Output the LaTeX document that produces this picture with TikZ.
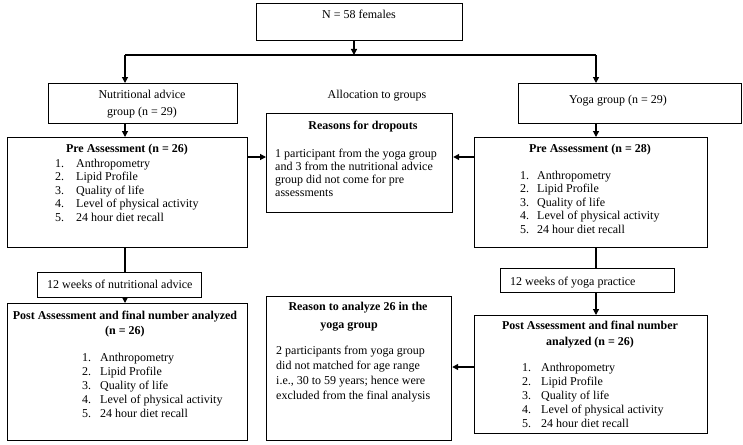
\documentclass[tikz,border=0pt]{standalone}
\usepackage{fontspec}
\setmainfont{Liberation Serif}
\usetikzlibrary{arrows.meta}
\begin{document}
\begin{tikzpicture}[x=1pt,y=-1pt,
  box/.style={draw,line width=1.2pt,inner sep=0pt,anchor=north west},
  txt/.style={inner sep=0pt,font=\fontsize{12}{13.5}\selectfont},
  conn/.style={line width=1.2pt},
  arr/.style={line width=1.2pt,-{Triangle[length=6pt,width=6pt]}}]
\useasboundingbox (0,0) rectangle (743,444);
% boxes
\node[box,minimum width=206pt,minimum height=37pt] (top) at (256,3) {};
\node[box,minimum width=189pt,minimum height=40pt] (nut) at (48,83) {};
\node[box,minimum width=223pt,minimum height=40pt] (yog) at (518,83) {};
\node[box,minimum width=186pt,minimum height=99pt] (drop) at (266,113) {};
\node[box,minimum width=240pt,minimum height=110pt] (preL) at (7,137) {};
\node[box,minimum width=233pt,minimum height=110pt] (preR) at (474,137) {};
\node[box,minimum width=164pt,minimum height=25pt] (wkL) at (37,272) {};
\node[box,minimum width=174pt,minimum height=24pt] (wkR) at (500,268) {};
\node[box,minimum width=240pt,minimum height=137pt] (postL) at (7,303) {};
\node[box,minimum width=185pt,minimum height=144pt] (why) at (266,296) {};
\node[box,minimum width=233pt,minimum height=118pt] (postR) at (474,315) {};
% texts
\node[txt,anchor=base] (tTop) at (359,19) {N = 58 females};
\node[txt,anchor=base,font=\fontsize{12}{16.5}\selectfont] (tNut) at (142,98.5) {\begin{tabular}[t]{@{}c@{}}Nutritional advice\\group (n = 29)\end{tabular}};
\node[txt,anchor=base] (tYog) at (618,103) {Yoga group (n = 29)};
\node[txt,anchor=base] (tAlloc) at (377,98) {Allocation to groups};
\node[txt,anchor=base,font=\fontsize{12}{13.5}\selectfont\bfseries] (tDropH) at (363,129) {Reasons for dropouts};
\node[txt,anchor=base west,font=\fontsize{12}{13}\selectfont] (tDrop) at (275,157) {\begin{tabular}[t]{@{}l@{}}1 participant from the yoga group\\and 3 from the nutritional advice\\group did not come for pre\\assessments\end{tabular}};
\node[txt,anchor=base,font=\fontsize{12}{13.5}\selectfont\bfseries] (tPreLH) at (127,152) {Pre Assessment (n = 26)};
\node[txt,anchor=base west] (tPreL) at (55,167) {\begin{tabular}[t]{@{}l@{\hspace{12pt}}l@{}}1.&Anthropometry\\2.&Lipid Profile\\3.&Quality of life\\4.&Level of physical activity\\5.&24 hour diet recall\end{tabular}};
\node[txt,anchor=base,font=\fontsize{12}{13.5}\selectfont\bfseries] (tPreRH) at (590,152) {Pre Assessment (n = 28)};
\node[txt,anchor=base west] (tPreR) at (520,179) {\begin{tabular}[t]{@{}l@{\hspace{8pt}}l@{}}1.&Anthropometry\\2.&Lipid Profile\\3.&Quality of life\\4.&Level of physical activity\\5.&24 hour diet recall\end{tabular}};
\node[txt,anchor=base west] (tWkL) at (47,288) {12 weeks of nutritional advice};
\node[txt,anchor=base west] (tWkR) at (510,285) {12 weeks of yoga practice};
\node[txt,anchor=base,font=\fontsize{12}{15}\selectfont\bfseries] (tPostLH) at (125,319) {\begin{tabular}[t]{@{}c@{}}Post Assessment and final number analyzed\\(n = 26)\end{tabular}};
\node[txt,anchor=base west,font=\fontsize{12}{14}\selectfont] (tPostL) at (82,361) {\begin{tabular}[t]{@{}l@{\hspace{9pt}}l@{}}1.&Anthropometry\\2.&Lipid Profile\\3.&Quality of life\\4.&Level of physical activity\\5.&24 hour diet recall\end{tabular}};
\node[txt,anchor=base,font=\fontsize{12}{16}\selectfont\bfseries] (tWhyH1) at (358,310) {Reason to analyze 26 in the};
\node[txt,anchor=base,font=\fontsize{12}{16}\selectfont\bfseries] (tWhyH2) at (349,328) {yoga group};
\node[txt,anchor=base west,font=\fontsize{12}{15.3}\selectfont] (tWhy) at (276,354) {\begin{tabular}[t]{@{}l@{}}2 participants from yoga group\\did not matched for age range\\i.e., 30 to 59 years; hence were\\excluded from the final analysis\end{tabular}};
\node[txt,anchor=base,font=\fontsize{12}{16.5}\selectfont\bfseries] (tPostRH) at (590,329) {\begin{tabular}[t]{@{}c@{}}Post Assessment and final number\\analyzed (n = 26)\end{tabular}};
\node[txt,anchor=base west,font=\fontsize{12}{14}\selectfont] (tPostR) at (522,371) {\begin{tabular}[t]{@{}l@{\hspace{10pt}}l@{}}1.&Anthropometry\\2.&Lipid Profile\\3.&Quality of life\\4.&Level of physical activity\\5.&24 hour diet recall\end{tabular}};
% connectors
\coordinate (split) at (354,55);
\coordinate (lx) at (125,0);
\coordinate (rx) at (596,0);
\draw[arr] (top.south -| split) -- (split);
\draw[conn] (lx |- split) -- (rx |- split);
\draw[arr] (lx |- split) -- (lx |- nut.north);
\draw[arr] (rx |- split) -- (rx |- yog.north);
\draw[arr] (lx |- nut.south) -- (lx |- preL.north);
\draw[arr] (rx |- yog.south) -- (rx |- preR.north);
\draw[arr] (preL.east |- 0,157) -- (drop.west |- 0,157);
\draw[arr] (preR.west |- 0,157) -- (drop.east |- 0,157);
\draw[conn] (lx |- preL.south) -- (lx |- wkL.north);
\draw[conn] (rx |- preR.south) -- (rx |- wkR.north);
\draw[arr] (lx |- wkL.south) -- (lx |- postL.north);
\draw[arr] (rx |- wkR.south) -- (rx |- postR.north);
\draw[arr] (postR.west |- 0,367) -- (why.east |- 0,367);
\end{tikzpicture}
\end{document}
